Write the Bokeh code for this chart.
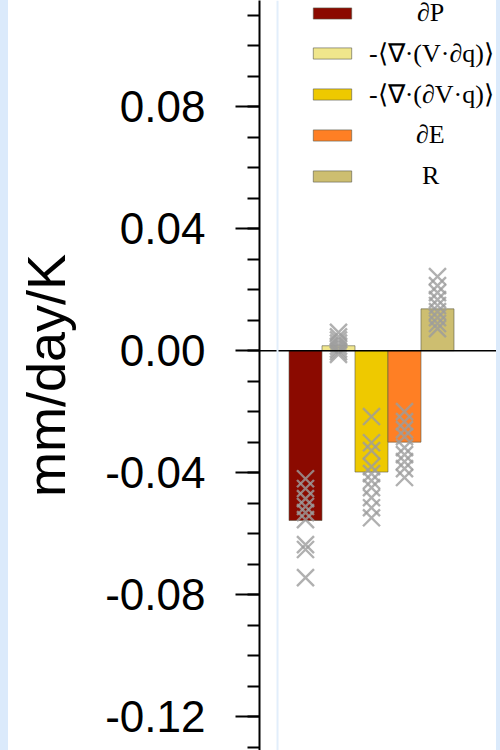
from bokeh.plotting import figure
from bokeh.models import (ColumnDataSource, FixedTicker, PrintfTickFormatter,
                          Legend, LegendItem, Span, Range1d, Spacer)
from bokeh.layouts import row
from bokeh.embed import file_html
from bokeh.resources import INLINE

# Moisture-budget terms (ensemble mean response, mm/day/K)
terms = ["∂P", "-⟨∇·(V·∂q)⟩", "-⟨∇·(∂V·q)⟩", "∂E", "R"]
colors = ["#8b0a00", "#f0e68c", "#eec900", "#ff7f24", "#cdbe70"]
mean_values = [-0.0557, 0.0016, -0.0398, -0.0300, 0.0137]

# Individual model responses for each term
members_dP = [-0.0420, -0.0452, -0.0485, -0.0511, -0.0531, -0.0554, -0.0636, -0.0652, -0.0744]
members_thermo = [0.0060, 0.0045, 0.0035, 0.0025, 0.0015, 0.0005, -0.0003, -0.0012]
members_dyn = [-0.0216, -0.0302, -0.0328, -0.0380, -0.0403, -0.0426, -0.0449, -0.0482, -0.0515, -0.0548]
members_dE = [-0.0200, -0.0233, -0.0259, -0.0282, -0.0318, -0.0341, -0.0364, -0.0387, -0.0416]
members_R = [0.0243, 0.0213, 0.0190, 0.0167, 0.0148, 0.0128, 0.0108, 0.0089, 0.0072]
members = [members_dP, members_thermo, members_dyn, members_dE, members_R]

major_ticks = [-0.12, -0.08, -0.04, 0.0, 0.04, 0.08]
minor_ticks = [round(-0.13 + 0.01 * k, 2) for k in range(25)]

positions = list(range(1, len(terms) + 1))
bars = ColumnDataSource(dict(x=positions, top=mean_values, color=colors, term=terms))

mx, my = [], []
for pos, vals in zip(positions, members):
    mx += [pos] * len(vals)
    my += vals
pts = ColumnDataSource(dict(x=mx, y=my))

p = figure(width=488, height=750, output_backend="svg", toolbar_location=None,
           x_range=Range1d(-0.394, 6.788), y_range=Range1d(-0.1311, 0.1148),
           min_border_left=251, min_border_right=0, min_border_top=0, min_border_bottom=0)
p.outline_line_color = None
p.grid.visible = False
p.xaxis.visible = False
p.background_fill_color = "white"
p.border_fill_color = "white"

bar_r = p.vbar(x="x", top="top", bottom=0, width=1.0, fill_color="color",
               line_color="#5a5a4a", line_alpha=0.6, line_width=1, source=bars)
p.scatter(x="x", y="y", marker="x", size=24, line_color="#9c9c9c",
          line_width=2.4, line_alpha=0.8, source=pts)

p.add_layout(Span(location=0, dimension="width", line_color="black", line_width=1.5))
p.add_layout(Span(location=0.152, dimension="height", line_color="#e2eefb", line_width=2))

yax = p.yaxis[0]
yax.ticker = FixedTicker(ticks=major_ticks, minor_ticks=minor_ticks)
yax.formatter = PrintfTickFormatter(format="%.2f")
yax.axis_label = "mm/day/K"
yax.axis_label_text_font = "Liberation Sans"
yax.axis_label_text_font_style = "normal"
yax.axis_label_text_font_size = "54px"
yax.axis_label_text_color = "black"
yax.axis_label_standoff = 26
yax.major_label_text_font = "Liberation Sans"
yax.major_label_text_font_size = "44px"
yax.major_label_text_color = "black"
yax.major_label_standoff = 30
yax.axis_line_width = 2
yax.major_tick_line_width = 2
yax.minor_tick_line_width = 2
yax.major_tick_out = 24
yax.major_tick_in = 0
yax.minor_tick_out = 12
yax.minor_tick_in = 0

# Legend: one entry per row, labels centred in a column right of the swatches.
# Approximate rendered label widths (px) are used to centre each label.
label_widths = [28, 123, 123, 29, 17]
label_centre = 75          # px from swatch right edge to label centre
row_centres = [13, 53, 94, 134.5, 175.5]   # px from top of the frame
row_half = 15.5
for i, (t, w, c) in enumerate(zip(terms, label_widths, row_centres)):
    lg = Legend(items=[LegendItem(label=t, renderers=[bar_r], index=i)],
                location=(49, 750 - c - row_half), padding=0, margin=0,
                glyph_width=48, glyph_height=14, label_height=31,
                label_standoff=int(label_centre - w / 2),
                label_text_font="Liberation Serif", label_text_font_size="26px",
                label_text_color="black",
                background_fill_alpha=0, border_line_alpha=0)
    p.add_layout(lg)

left_pad = Spacer(width=8, height=750, styles={"background-color": "#dbeafb"})
right_pad = Spacer(width=4, height=750, styles={"background-color": "#dbeafb"})
layout = row(left_pad, p, right_pad, spacing=0)

open("out.html", "w").write(file_html(layout, INLINE))
